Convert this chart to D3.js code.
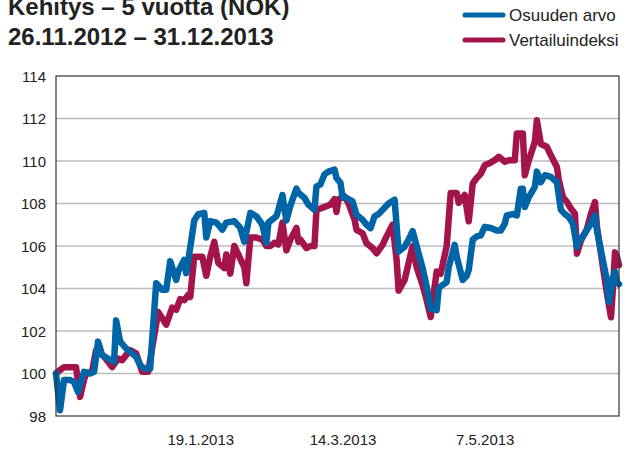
<!DOCTYPE html>
<html>
<head>
<meta charset="utf-8">
<script src="https://cdn.jsdelivr.net/npm/d3@7"></script>
<style>
  html, body { margin: 0; padding: 0; background: #fff; }
  svg { display: block; }
  text { font-family: "Liberation Sans", Arial, Helvetica, sans-serif; }
</style>
</head>
<body>
<div id="chart"></div>
<script>
// Fund value vs. benchmark index, rebased to 100 (trading-day index, value)
const fundDays = [0,2,4,7,9,11,14,17,19,21,23,27,29,30,32,35,40,42,44,47,50,53,55,57,60,61,64,65,66,69,71,74,75,77,80,81,83,85,89,92,94,97,100,103,105,106,110,111,113,115,117,120,121,124,126,129,130,132,134,136,139,140,142,143,145,148,150,153,155,157,159,161,164,166,169,171,174,176,178,180,183,185,187,190,191,192,195,196,199,200,203,205,206,208,210,212,214,217,220,222,224,225,228,230,232,233,234,236,239,240,242,244,247,250,252,254,256,258,260,261,264,266,269,270,273,275,276,278,279,280,281];
const fundValues = [100.0,98.27,99.7,99.7,99.6,99.13,100.08,100.0,100.08,101.5,100.87,100.63,100.55,102.5,101.5,101.18,100.79,100.4,100.24,100.24,104.25,103.94,103.94,105.28,104.4,104.8,105.35,104.72,105.3,107.2,107.5,107.56,106.4,107.17,107.1,107.0,106.77,107.1,107.17,106.85,106.2,107.56,107.4,107.0,106.14,107.1,107.4,107.7,108.4,107.2,107.9,108.7,108.5,108.27,107.95,107.7,108.8,108.9,109.37,109.5,109.6,109.2,108.97,108.3,108.26,108.1,107.47,107.24,107.0,106.84,107.4,107.5,107.8,108.0,108.18,105.74,105.97,106.3,106.7,106.0,104.95,104.1,103.05,102.98,104.0,104.1,104.3,105.0,106.05,105.5,104.4,104.6,104.87,106.3,106.45,106.5,106.9,106.85,106.73,106.73,107.05,107.44,107.5,107.44,108.7,108.7,107.84,108.3,108.78,109.5,109.0,109.33,109.25,109.0,107.7,107.5,107.36,107.05,105.95,106.2,106.6,106.9,107.44,106.74,105.3,104.38,103.36,104.5,104.77,104.3,104.2];

const indexDays = [0,2,4,10,12,14,15,18,20,24,28,31,33,37,40,43,46,51,55,58,60,62,64,66,67,69,73,75,77,79,81,84,85,87,89,91,94,95,97,100,103,105,107,109,111,113,115,117,120,121,122,125,127,129,130,133,135,137,139,140,141,144,146,149,150,153,155,158,160,163,165,168,170,171,174,176,178,180,183,185,187,190,192,195,197,200,201,204,206,208,210,212,214,216,219,221,224,226,229,230,233,234,236,239,240,242,245,247,250,251,253,255,257,259,260,262,265,267,269,270,273,275,277,278,279,280,281];
const indexValues = [100.0,100.16,100.3,100.3,98.9,99.7,100.0,100.08,101.1,100.8,100.3,100.7,100.63,101.1,100.95,100.08,100.08,102.9,102.3,103.1,103.0,103.5,103.45,103.7,103.6,105.5,105.5,104.6,105.5,106.2,105.2,104.96,105.6,104.7,106.0,105.6,105.0,104.25,106.4,106.4,106.3,106.0,106.0,106.15,106.07,107.1,105.8,106.3,106.85,106.2,106.3,105.9,106.0,106.0,107.7,107.8,107.87,107.95,108.2,107.6,108.2,108.34,108.0,107.24,106.76,106.6,106.13,105.9,105.66,106.05,106.45,107.0,105.35,103.9,104.4,105.2,106.0,105.0,104.16,103.45,102.66,104.8,104.7,106.0,108.5,108.5,108.03,108.4,107.16,108.94,109.2,109.4,109.8,109.88,110.04,110.2,109.96,110.04,110.04,111.3,111.3,109.33,110.04,110.9,111.92,110.8,110.67,110.27,109.72,109.1,108.3,108.07,107.76,107.52,105.64,106.26,106.8,107.52,108.07,106.9,105.0,103.75,102.65,104.06,105.7,105.5,105.1];

const seriesNames = ["Osuuden arvo", "Vertailuindeksi"];
const yTicks = [98, 100, 102, 104, 106, 108, 110, 112, 114];
const xTickDays = [72, 143, 214];
const xTickLabels = ["19.1.2013", "14.3.2013", "7.5.2013"];
const titleLines = ["Kehitys – 5 vuotta (NOK)", "26.11.2012 – 31.12.2013"];

const W = 624, H = 451;
const margin = { left: 56, right: 5, top: 76, bottom: 35 };
const colors = { fund: "#0065a6", index: "#a3144b" };

const svg = d3.select("#chart").append("svg").attr("width", W).attr("height", H);

const x = d3.scaleLinear().domain([0, 281]).range([margin.left, W - margin.right]);
const y = d3.scaleLinear().domain([98, 114]).range([H - margin.bottom, margin.top]);

// horizontal gridlines
svg.append("g")
  .selectAll("line")
  .data(yTicks.slice(1, -1))
  .join("line")
  .attr("x1", x.range()[0]).attr("x2", x.range()[1])
  .attr("y1", d => y(d)).attr("y2", d => y(d))
  .attr("stroke", "#bcbcbc").attr("stroke-width", 1.5);

// y axis labels
const yAxis = d3.axisLeft(y).tickValues(yTicks).tickSize(0).tickPadding(10).tickFormat(d3.format("d"));
svg.append("g")
  .attr("transform", `translate(${margin.left},0)`)
  .call(yAxis)
  .call(g => g.select(".domain").remove())
  .selectAll("text")
  .attr("font-size", 15).attr("fill", "#222").attr("dy", "0.35em")
  .style("font-family", "'Liberation Sans', Arial, sans-serif");

// x axis labels
const xAxis = d3.axisBottom(x).tickValues(xTickDays).tickSize(0).tickPadding(18)
  .tickFormat((d, i) => xTickLabels[i]);
svg.append("g")
  .attr("transform", `translate(0,${H - margin.bottom})`)
  .call(xAxis)
  .call(g => g.select(".domain").remove())
  .selectAll("text")
  .attr("font-size", 15).attr("fill", "#222")
  .style("font-family", "'Liberation Sans', Arial, sans-serif");

// series lines
const line = d3.line()
  .x(d => x(d[0]))
  .y(d => y(d[1]))
  .curve(d3.curveLinear);

const indexData = d3.zip(indexDays, indexValues);
const fundData = d3.zip(fundDays, fundValues);

svg.append("path")
  .datum(indexData)
  .attr("d", line)
  .attr("fill", "none")
  .attr("stroke", colors.index)
  .attr("stroke-width", 6.5)
  .attr("stroke-linejoin", "round")
  .attr("stroke-linecap", "round");

svg.append("path")
  .datum(fundData)
  .attr("d", line)
  .attr("fill", "none")
  .attr("stroke", colors.fund)
  .attr("stroke-width", 6.5)
  .attr("stroke-linejoin", "round")
  .attr("stroke-linecap", "round");

// plot frame
svg.append("rect")
  .attr("x", x.range()[0]).attr("y", y.range()[1])
  .attr("width", x.range()[1] - x.range()[0])
  .attr("height", y.range()[0] - y.range()[1])
  .attr("fill", "none")
  .attr("stroke", "#333").attr("stroke-width", 1.2);

// title
svg.append("g").selectAll("text")
  .data(titleLines)
  .join("text")
  .attr("x", 8)
  .attr("y", (d, i) => 15 + i * 30)
  .attr("font-size", 24)
  .attr("font-weight", "bold")
  .attr("fill", "#222")
  .text(d => d);

// legend
const legend = svg.append("g");
const legendItems = [
  { name: seriesNames[0], color: colors.fund },
  { name: seriesNames[1], color: colors.index }
];
const li = legend.selectAll("g").data(legendItems).join("g")
  .attr("transform", (d, i) => `translate(465,${15 + i * 25})`);
li.append("line")
  .attr("x1", 0).attr("x2", 38).attr("y1", 0).attr("y2", 0)
  .attr("stroke", d => d.color).attr("stroke-width", 5)
  .attr("stroke-linecap", "round");
li.append("text")
  .attr("x", 44).attr("y", 6)
  .attr("font-size", 17).attr("fill", "#222")
  .text(d => d.name);
</script>
</body>
</html>
